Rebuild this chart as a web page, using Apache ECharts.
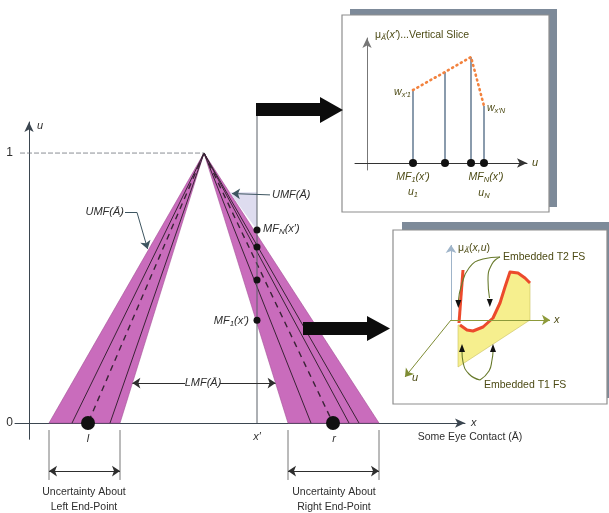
<!DOCTYPE html>
<html><head><meta charset="utf-8">
<script src="https://cdn.jsdelivr.net/npm/echarts@6/dist/echarts.min.js"></script>
<style>html,body{margin:0;padding:0;background:#fff}#c{width:609px;height:513px}</style>
</head><body><div id="c"></div>
<script>
// ---------- main diagram (x in arbitrary units, u in [0,1]) ----------
const apex = [8.75, 1];
const leftBase = [1.0, 4.55];        // UMF foot, LMF foot (left)
const rightBase = [12.95, 17.5];     // LMF foot, UMF foot (right)
const leftSolid = [2.15, 4.05];
const rightSolid = [14.1, 16.0, 16.5];
const leftEnd = 2.95;                // l
const rightEnd = 15.2;               // r
const xPrime = 11.4;
const xPrimeTop = 1.137;
const sliceDots = [0.715, 0.652, 0.53, 0.381];
const umfPatch = [[10.03, 0.855], [11.4, 0.855], [11.4, 0.715]];
const oneLine = [[-0.45, 1], [8.75, 1]];
const yTickValues = [0, 1];
const lmfU = 0.148;
const lmfLeftArrow = [7.8, 5.17];
const lmfRightArrow = [9.55, 12.33];
const umfLeftLeader = [[4.8, 0.78], [5.4, 0.78], [5.93, 0.645]];
const umfRightLeader = [[12.05, 0.845], [10.15, 0.85]];
const uncertaintyU = -0.178;
const uncertaintyTick = [-0.026, -0.211];
const uncertaintyLeft = [1.0, 4.55];
const uncertaintyRight = [12.95, 17.5];

// ---------- vertical slice inset ----------
const sliceU = [4.6, 7.8, 10.4, 11.7];
const sliceW = [0.584, 0.728, 0.848, 0.456];

// ---------- embedded sets inset (projected plane) ----------
const t2Left = [[6.3, 12.0], [5.9, 6.7]];
const t2Curve = [[6.0,6.5],[6.7,6.0],[7.3,5.9],[8.3,6.3],[9.3,7.2],[10.0,8.7],[10.5,10.3],[11.0,11.8],[11.8,11.7],[12.5,11.2],[13.0,10.7]];
const t1Corners = [[13.0,7.0],[5.8,2.3],[5.8,6.5]];
const axOrigin = [5.1, 7.0];
const axX = [15.0, 7.0];
const axMu = [5.1, 14.5];
const axU = [0.5, 1.3];
const t2Lead1 = [[10.0,13.3],[8.3,13.1],[6.9,12.2],[6.1,10.3],[5.85,9.0]];
const t2Lead2 = [[10.0,13.3],[9.2,12.6],[8.8,11.0],[8.95,9.2]];
const t1Lead1 = [[8.0,1.0],[6.9,1.6],[6.3,2.8],[6.2,3.8]];
const t1Lead2 = [[8.0,1.0],[8.9,1.9],[9.2,3.0],[9.3,3.8]];
const headsDown = [[5.83,8.6],[8.98,8.7]];
const headsUp = [[6.2,4.2],[9.3,4.2]];

const FONT = '"Liberation Sans", Arial, sans-serif';
const INK = '#2e2e2e';
const OLIVE = '#4d4b15';
const AX = '#3b4650';

function txt(text, x, y, extra) {
  return {type:'text', z:100, silent:true, style:Object.assign({text, x, y, fill:INK,
    font:'11px ' + FONT, align:'left', verticalAlign:'middle'}, extra || {})};
}
function richTxt(text, x, y, color, size, align) {
  size = size || 11;
  return {type:'text', z:100, silent:true, style:{text, x, y, align: align || 'left', verticalAlign:'middle',
    fill: color, font: size + 'px ' + FONT,
    rich:{
      i:{fontStyle:'italic', fontSize:size, fontFamily:FONT, fill:color, lineHeight:14},
      n:{fontSize:size, fontFamily:FONT, fill:color, lineHeight:14},
      s:{fontStyle:'italic', fontSize:size-3, fontFamily:FONT, fill:color, lineHeight:14, padding:[6,0,0,0]}
    }}};
}
const seg = (a, b, sa, sb, color) => [
  {coord:a, symbol:sa || 'none', lineStyle:{color: color || INK, width:1, type:'solid'}},
  {coord:b, symbol:sb || 'none'}
];

const chart = echarts.init(document.getElementById('c'), null, {renderer:'canvas'});

const innerLines = [];
leftSolid.forEach(b => innerLines.push({b, dash:false}));
rightSolid.forEach(b => innerLines.push({b, dash:false}));
innerLines.push({b:leftEnd, dash:true});
innerLines.push({b:rightEnd, dash:true});

const series = [];
// bands
series.push({
  type:'custom', xAxisIndex:0, yAxisIndex:0, z:1, silent:true,
  data:[leftBase, rightBase],
  renderItem:(p, api) => {
    const a = api.coord(apex), p0 = api.coord([api.value(0), 0]), p1 = api.coord([api.value(1), 0]);
    return {type:'polygon', shape:{points:[p0, a, p1]}, style:{fill:'#c96cbc', stroke:'#a24f96', lineWidth:0.6}};
  }
});
// lavender patch
series.push({
  type:'custom', xAxisIndex:0, yAxisIndex:0, z:1, silent:true, data:[0],
  renderItem:(p, api) => ({type:'polygon', shape:{points: umfPatch.map(q => api.coord(q))},
    style:{fill:'#dedcef'}})
});
// interior lines
innerLines.forEach(l => series.push({
  type:'line', xAxisIndex:0, yAxisIndex:0, z:3, silent:true, symbol:'none',
  data:[apex, [l.b, 0]],
  lineStyle:{color:'#3a2336', width: l.dash ? 1.4 : 1, type: l.dash ? [6,5] : 'solid'}
}));
// dashed line at u = 1
series.push({type:'line', xAxisIndex:0, yAxisIndex:0, z:3, silent:true, symbol:'none', clip:false,
  data:oneLine, lineStyle:{color:'#6c7078', width:0.8, type:[5,2]}});
// x' vertical line + annotations
series.push({
  type:'line', xAxisIndex:0, yAxisIndex:0, z:4, silent:true, symbol:'none', clip:false,
  data:[[xPrime, 0], [xPrime, xPrimeTop]], lineStyle:{color:'#5a6068', width:1},
  markLine:{silent:true, symbolSize:8, label:{show:false}, animation:false, data:[
    seg([lmfLeftArrow[0], lmfU], [lmfLeftArrow[1], lmfU], 'none', 'arrow'),
    seg([lmfRightArrow[0], lmfU], [lmfRightArrow[1], lmfU], 'none', 'arrow'),
    seg(umfLeftLeader[0], umfLeftLeader[1], 'none', 'none', '#3d5560'),
    seg(umfLeftLeader[1], umfLeftLeader[2], 'none', 'arrow', '#3d5560'),
    seg(umfRightLeader[0], umfRightLeader[1], 'none', 'arrow', '#3d5560')
  ]}
});
// dots
series.push({type:'scatter', xAxisIndex:0, yAxisIndex:0, z:5, silent:true, symbolSize:7,
  itemStyle:{color:'#111', opacity:1}, data: sliceDots.map(v => [xPrime, v])});
series.push({type:'scatter', xAxisIndex:0, yAxisIndex:0, z:5, silent:true, symbolSize:14, clip:false,
  itemStyle:{color:'#111', opacity:1}, data:[[leftEnd, 0], [rightEnd, 0]]});

// ----- uncertainty strip (grid 3, same x scale as main) -----
series.push({
  type:'custom', xAxisIndex:3, yAxisIndex:3, z:3, silent:true,
  data: uncertaintyLeft.concat(uncertaintyRight),
  renderItem:(p, api) => {
    const a = api.coord([api.value(0), uncertaintyTick[0]]), b = api.coord([api.value(0), uncertaintyTick[1]]);
    return {type:'line', shape:{x1:a[0], y1:a[1], x2:b[0], y2:b[1]}, style:{stroke:'#777', lineWidth:1}};
  },
  markLine:{silent:true, symbolSize:8, label:{show:false}, animation:false, data:[
    seg([uncertaintyLeft[0], uncertaintyU], [uncertaintyLeft[1], uncertaintyU], 'arrow', 'arrow'),
    seg([uncertaintyRight[0], uncertaintyU], [uncertaintyRight[1], uncertaintyU], 'arrow', 'arrow')
  ]}
});

// ----- inset 1 -----
series.push({
  type:'custom', xAxisIndex:1, yAxisIndex:1, z:3, silent:true,
  data: sliceU.map((u, i) => [u, sliceW[i]]),
  renderItem:(p, api) => {
    const a = api.coord([api.value(0), 0]), b = api.coord([api.value(0), api.value(1)]);
    return {type:'line', shape:{x1:a[0], y1:a[1], x2:b[0], y2:b[1]}, style:{stroke:'#6d8298', lineWidth:1.6}};
  }
});
series.push({type:'line', xAxisIndex:1, yAxisIndex:1, z:4, silent:true, symbol:'none',
  data: sliceU.map((u, i) => [u, sliceW[i]]),
  lineStyle:{color:'#f2823e', width:2.6, type:[1,4], cap:'round'}});
series.push({type:'scatter', xAxisIndex:1, yAxisIndex:1, z:5, silent:true, symbolSize:8,
  itemStyle:{color:'#111', opacity:1}, data: sliceU.map(u => [u, 0])});

// ----- inset 2 -----
series.push({
  type:'custom', xAxisIndex:2, yAxisIndex:2, z:2, silent:true, data:[0],
  renderItem:(p, api) => ({type:'polygon', shape:{points: t2Curve.concat(t1Corners).map(q => api.coord(q))},
    style:{fill:'#f6ef8e', stroke:'#c9c060', lineWidth:0.6}})
});
series.push({type:'line', xAxisIndex:2, yAxisIndex:2, z:4, silent:true, symbol:'none',
  data:t2Curve, lineStyle:{color:'#ec4a2c', width:3, join:'round'}});
series.push({type:'line', xAxisIndex:2, yAxisIndex:2, z:4, silent:true, symbol:'none',
  data:t2Left, lineStyle:{color:'#ec4a2c', width:3}});
series.push({
  type:'line', xAxisIndex:2, yAxisIndex:2, z:3, silent:true, symbol:'none',
  data:[axOrigin], lineStyle:{width:0},
  markLine:{silent:true, symbolSize:8, label:{show:false}, animation:false, data:[
    seg(axOrigin, axX, 'none', 'arrow', '#8d9a3a'),
    seg(axOrigin, axMu, 'none', 'arrow', '#9fb4c9'),
    seg(axOrigin, axU, 'none', 'arrow', '#7e8c34')
  ]}
});
[t2Lead1, t2Lead2, t1Lead1, t1Lead2].forEach(d => series.push({
  type:'line', xAxisIndex:2, yAxisIndex:2, z:5, silent:true, symbol:'none', smooth:true,
  data:d, lineStyle:{color:'#687a2c', width:1.1}
}));
series.push({type:'scatter', xAxisIndex:2, yAxisIndex:2, z:6, silent:true, symbol:'triangle', symbolSize:[6,8],
  symbolRotate:180, itemStyle:{color:'#111', opacity:1}, data:headsDown});
series.push({type:'scatter', xAxisIndex:2, yAxisIndex:2, z:6, silent:true, symbol:'triangle', symbolSize:[6,8],
  itemStyle:{color:'#111', opacity:1}, data:headsUp});

const hidden = {axisLine:{show:false}, axisTick:{show:false}, axisLabel:{show:false}, splitLine:{show:false}};

const option = {
  animation:false,
  backgroundColor:'#ffffff',
  grid:[
    {left:15, top:122, width:450, height:317.25, outerBoundsMode:'none'},
    {left:355, top:38, width:172, height:132, outerBoundsMode:'none'},
    {left:400, top:240, width:160, height:150, outerBoundsMode:'none'},
    {left:15, top:423, width:450, height:62.1, outerBoundsMode:'none'}
  ],
  xAxis:[
    {type:'value', gridIndex:0, min:-0.7, max:21.8,
      axisLine:{onZero:true, symbol:['none','arrow'], symbolSize:[7,10], lineStyle:{color:AX, width:1}},
      axisTick:{show:false}, axisLabel:{show:false}, splitLine:{show:false},
      name:'x', nameLocation:'end', nameGap:6,
      nameTextStyle:{fontStyle:'italic', fontSize:11, color:INK, fontFamily:FONT}},
    {type:'value', gridIndex:1, min:-1.2, max:16,
      axisLine:{onZero:true, symbol:['none','arrow'], symbolSize:[7,10], lineStyle:{color:'#333', width:1}},
      axisTick:{show:false}, axisLabel:{show:false}, splitLine:{show:false},
      name:'u', nameLocation:'end', nameGap:5,
      nameTextStyle:{fontStyle:'italic', fontSize:11, color:OLIVE, fontFamily:FONT}},
    Object.assign({type:'value', gridIndex:2, min:0, max:16}, hidden),
    Object.assign({type:'value', gridIndex:3, min:-0.7, max:21.8}, hidden)
  ],
  yAxis:[
    {type:'value', gridIndex:0, min:-0.06, max:1.115,
      axisLine:{onZero:true, symbol:['none','arrow'], symbolSize:[7,10], lineStyle:{color:AX, width:1}},
      axisTick:{show:false}, splitLine:{show:false},
      axisLabel:{show:true, customValues:yTickValues, margin:2, color:INK, fontSize:12, fontFamily:FONT},
      name:'u', nameLocation:'end', nameGap:-9,
      nameTextStyle:{fontStyle:'italic', fontSize:11, color:INK, fontFamily:FONT, align:'left', padding:[0,0,0,8]}},
    {type:'value', gridIndex:1, min:-0.056, max:1,
      axisLine:{onZero:true, symbol:['none','arrow'], symbolSize:[7,10], lineStyle:{color:'#777', width:1}},
      axisTick:{show:false}, axisLabel:{show:false}, splitLine:{show:false}},
    Object.assign({type:'value', gridIndex:2, min:0, max:15}, hidden),
    Object.assign({type:'value', gridIndex:3, min:-0.23, max:0}, hidden)
  ],
  graphic:[
    // inset boxes with shadows
    {type:'rect', z:-10, silent:true, shape:{x:350, y:9, width:207, height:198}, style:{fill:'#7d8a99'}},
    {type:'rect', z:-9, silent:true, shape:{x:342, y:15, width:207, height:197}, style:{fill:'#ffffff', stroke:'#8e8e8e', lineWidth:1.2}},
    {type:'rect', z:-10, silent:true, shape:{x:402, y:222, width:207, height:176}, style:{fill:'#7d8a99'}},
    {type:'rect', z:-9, silent:true, shape:{x:393, y:230, width:214, height:174}, style:{fill:'#ffffff', stroke:'#8e8e8e', lineWidth:1.2}},
    // big arrows
    {type:'polygon', z:90, silent:true, shape:{points:[[256,103],[320,103],[320,97],[343,110],[320,123],[320,116],[256,116]]}, style:{fill:'#0c0c0c'}},
    {type:'polygon', z:90, silent:true, shape:{points:[[303,322],[367,322],[367,316],[390,328.5],[367,341],[367,335],[303,335]]}, style:{fill:'#0c0c0c'}},
    // main labels
    richTxt('{i|UMF(Ā)}', 124, 212, INK, 11, 'right'),
    richTxt('{i|UMF(Ā)}', 272, 195, INK, 11, 'left'),
    richTxt('{i|MF}{s|N}{i|(x′)}', 263, 229, INK, 11, 'left'),
    richTxt('{i|MF}{s|1}{i|(x′)}', 249, 321, INK, 11, 'right'),
    richTxt('{i|LMF(Ā)}', 203, 383, INK, 11, 'center'),
    txt('l', 88, 439, {align:'center', font:'italic 11px ' + FONT}),
    txt('r', 334, 439, {align:'center', font:'italic 11px ' + FONT}),
    txt('x′', 257, 437, {align:'center', font:'italic 11px ' + FONT}),
    txt('Some Eye Contact (Ā)', 470, 437, {align:'center', font:'10.5px ' + FONT}),
    txt('Uncertainty About', 84, 492, {align:'center', font:'10.5px ' + FONT}),
    txt('Left End-Point', 84, 507, {align:'center', font:'10.5px ' + FONT}),
    txt('Uncertainty About', 334, 492, {align:'center', font:'10.5px ' + FONT}),
    txt('Right End-Point', 334, 507, {align:'center', font:'10.5px ' + FONT}),
    // inset 1 labels
    richTxt('{n|μ}{s|Ã}{n|(}{i|x′}{n|)...Vertical Slice}', 375, 35, OLIVE, 10.5, 'left'),
    richTxt('{i|w}{s|x′1}', 411, 92, OLIVE, 10.5, 'right'),
    richTxt('{i|w}{s|x′N}', 487, 108, OLIVE, 10.5, 'left'),
    richTxt('{i|MF}{s|1}{i|(x′)}', 413, 177, OLIVE, 10.5, 'center'),
    richTxt('{i|u}{s|1}', 413, 192, OLIVE, 10.5, 'center'),
    richTxt('{i|MF}{s|N}{i|(x′)}', 486, 177, OLIVE, 10.5, 'center'),
    richTxt('{i|u}{s|N}', 484, 193, OLIVE, 10.5, 'center'),
    // inset 2 labels
    richTxt('{n|μ}{s|Ã}{n|(}{i|x,u}{n|)}', 458, 248, OLIVE, 10.5, 'left'),
    txt('Embedded T2 FS', 503, 257, {fill:OLIVE, font:'10.5px ' + FONT}),
    txt('Embedded T1 FS', 484, 385, {fill:OLIVE, font:'10.5px ' + FONT}),
    txt('x', 554, 320, {fill:OLIVE, font:'italic 11px ' + FONT}),
    txt('u', 412, 378, {fill:OLIVE, font:'italic 11px ' + FONT})
  ],
  series
};
chart.setOption(option);
</script>
</body></html>
